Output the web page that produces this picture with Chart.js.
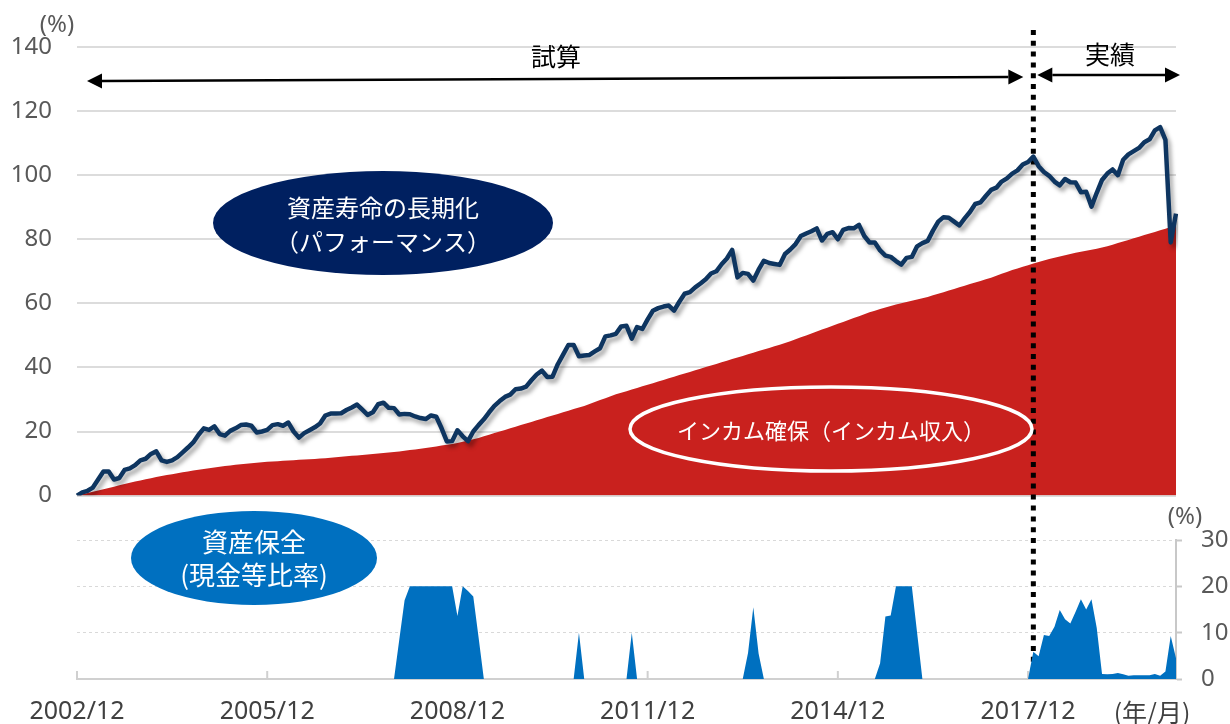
<!DOCTYPE html>
<html lang="ja">
<head>
<meta charset="utf-8">
<title>資産寿命の長期化</title>
<script src="https://cdn.jsdelivr.net/npm/chart.js@4.4.1/dist/chart.umd.min.js"></script>
<style>
  body { margin: 0; background: #fff; }
  #wrap { position: relative; width: 1230px; height: 724px; background: #fff; }
  #topBox { position: absolute; left: 0; top: 0; width: 1230px; height: 510px; z-index: 2; }
  #bottomBox { position: absolute; left: 0; top: 500px; width: 1230px; height: 224px; z-index: 1; }
</style>
</head>
<body>
<div id="wrap">
  <div id="topBox"><canvas id="perfChart" width="1230" height="510"></canvas></div>
  <div id="bottomBox"><canvas id="cashChart" width="1230" height="224"></canvas></div>
</div>
<script>
// monthly labels, 2002/12 .. 2020/4
const months = [];
for (let i = 0; i < 209; i++) {
    const m = (11 + i) % 12 + 1;
    const y = 2002 + Math.floor((11 + i) / 12);
    months.push(y + '/' + m);
}

// 資産寿命の長期化（パフォーマンス）, %
const performance = [
    0, 1, 1.5, 2.5, 5, 7.5, 7.5, 5, 5.5, 8, 8.5, 9.5, 11, 11.5, 13, 13.8, 11, 10.5, 11, 12,
    13.5, 15, 16.6, 19, 21, 20.5, 21.6, 19.2, 18.7, 20.2, 21, 22, 22.2, 21.8, 19.7, 20, 20.5, 22, 22.3, 21.8,
    22.8, 20, 18.1, 19.5, 20.4, 21.3, 22.5, 25, 25.6, 25.6, 25.7, 26.7, 27.5, 28.4, 26.8, 25.2, 26, 28.5, 29, 27.4,
    27.3, 25.3, 25.5, 25.4, 24.7, 24.2, 23.9, 25, 24.6, 21, 16.9, 17, 20.4, 18.5, 17, 20, 22, 23.8, 26, 28,
    29.5, 30.8, 31.5, 33.2, 33.4, 34, 36, 37.8, 39, 37, 37.1, 41, 44, 47, 47, 43.5, 43.7, 43.9, 45, 46,
    49.7, 50, 50.5, 52.8, 53, 49, 52.6, 52, 55, 57.7, 58.5, 59, 59.3, 57.7, 60.5, 63, 63.5, 65, 66.2, 67.5,
    69.3, 70, 72.2, 74, 76.7, 68.1, 69.5, 69.2, 67.1, 70.5, 73.3, 72.6, 72.3, 72, 75.4, 76.8, 78.5, 81, 81.8, 82.5,
    83.4, 79.6, 81.7, 82.2, 80, 82.9, 83.5, 83.4, 84.5, 81, 79, 79, 76.5, 74.9, 74.5, 73.2, 72.1, 74.2, 74.5, 77.8,
    78.8, 79.5, 82.7, 85.5, 86.9, 86.7, 85.5, 84.3, 86.5, 88.5, 91, 91.5, 93.5, 95.4, 96.1, 98, 99, 100.5, 101.5, 103.3,
    104.1, 105.8, 102.8, 101, 99.8, 98, 96.8, 98.8, 97.8, 97.7, 94.7, 94.8, 90.2, 94.5, 98.5, 100.5, 101.8, 100, 104.8, 106.5,
    107.5, 108.5, 110.3, 111.2, 114, 115, 111, 79, 88
];

// インカム確保（インカム収入）, %
const income = [
    0, 0.4, 0.8, 1.2, 1.6, 2.0, 2.4, 2.8, 3.2, 3.6, 4.0, 4.4, 4.75, 5.1, 5.45, 5.8, 6.1, 6.4, 6.7, 7.0,
    7.3, 7.55, 7.8, 8.05, 8.3, 8.55, 8.8, 9.0, 9.2, 9.4, 9.6, 9.8, 9.95, 10.1, 10.25, 10.4, 10.55, 10.65, 10.75, 10.85,
    10.95, 11.05, 11.15, 11.25, 11.35, 11.45, 11.55, 11.65, 11.8, 11.95, 12.1, 12.25, 12.4, 12.55, 12.7, 12.85, 13.0, 13.15, 13.3, 13.45,
    13.6, 13.8, 14.0, 14.2, 14.4, 14.6, 14.85, 15.1, 15.35, 15.6, 15.85, 16.1, 16.4, 16.8, 17.2, 17.6, 18.0, 18.5, 19.0, 19.5,
    20.0, 20.5, 21.0, 21.5, 22.0, 22.5, 23.0, 23.5, 24.0, 24.5, 25.0, 25.5, 26.0, 26.5, 27.0, 27.5, 28.0, 28.6, 29.2, 29.8,
    30.4, 31.0, 31.6, 32.1, 32.6, 33.1, 33.6, 34.1, 34.6, 35.1, 35.6, 36.1, 36.6, 37.1, 37.6, 38.1, 38.6, 39.1, 39.6, 40.1,
    40.6, 41.1, 41.6, 42.1, 42.6, 43.1, 43.6, 44.1, 44.6, 45.1, 45.6, 46.1, 46.6, 47.1, 47.6, 48.2, 48.8, 49.4, 50.0, 50.6,
    51.2, 51.8, 52.4, 53.0, 53.6, 54.2, 54.8, 55.4, 56.0, 56.6, 57.2, 57.7, 58.2, 58.7, 59.2, 59.6, 60.0, 60.4, 60.8, 61.2,
    61.6, 62.0, 62.5, 63.0, 63.5, 64.0, 64.5, 65.0, 65.5, 66.0, 66.5, 67.0, 67.5, 68.0, 68.6, 69.2, 69.8, 70.4, 70.9, 71.4,
    71.9, 72.4, 72.9, 73.4, 73.8, 74.2, 74.6, 75.0, 75.4, 75.8, 76.1, 76.4, 76.7, 77.0, 77.4, 77.8, 78.3, 78.8, 79.3, 79.8,
    80.3, 80.8, 81.3, 81.8, 82.3, 82.8, 83.3, 83.8, 84.3
];

// 資産保全（現金等比率）, %
const cashRatio = [
    0, 0, 0, 0, 0, 0, 0, 0, 0, 0, 0, 0, 0, 0, 0, 0, 0, 0, 0, 0,
    0, 0, 0, 0, 0, 0, 0, 0, 0, 0, 0, 0, 0, 0, 0, 0, 0, 0, 0, 0,
    0, 0, 0, 0, 0, 0, 0, 0, 0, 0, 0, 0, 0, 0, 0, 0, 0, 0, 0, 0,
    0, 8.5, 17, 20, 20, 20, 20, 20, 20, 20, 20, 20, 13.6, 20, 19, 17.8, 9, 0, 0, 0,
    0, 0, 0, 0, 0, 0, 0, 0, 0, 0, 0, 0, 0, 0, 0, 10, 0, 0, 0, 0,
    0, 0, 0, 0, 0, 10, 0, 0, 0, 0, 0, 0, 0, 0, 0, 0, 0, 0, 0, 0,
    0, 0, 0, 0, 0, 0, 0, 5.6, 15.5, 5.5, 0, 0, 0, 0, 0, 0, 0, 0, 0, 0,
    0, 0, 0, 0, 0, 0, 0, 0, 0, 0, 0, 0, 3.4, 13.5, 13.7, 20, 20, 20, 20, 10,
    0, 0, 0, 0, 0, 0, 0, 0, 0, 0, 0, 0, 0, 0, 0, 0, 0, 0, 0, 0,
    0, 5.9, 4.9, 9.5, 9.3, 11.3, 14.9, 12.9, 12, 14.5, 17.2, 15, 17.2, 11, 1.1, 1.0, 1.1, 1.3, 1.0, 0.7,
    0.8, 0.8, 0.8, 0.8, 1.1, 0.7, 1.6, 9.3, 4.5
];

const perfTicks = [0, 20, 40, 60, 80, 100, 120, 140];
const cashTicks = [0, 10, 20, 30];
const splitIndex = 181;   // 試算 | 実績
const tickEvery = 36;

const jpFont = '"Noto Sans CJK JP", sans-serif';
Chart.defaults.font.family = '"Noto Sans", "Noto Sans CJK JP", sans-serif';

function drawDotted(ctx, x, y1, y2, offset) {
    ctx.save();
    ctx.strokeStyle = '#000';
    ctx.lineWidth = 5;
    ctx.setLineDash([5, 5.8]);
    ctx.lineDashOffset = offset;
    ctx.beginPath();
    ctx.moveTo(x, y1);
    ctx.lineTo(x, y2);
    ctx.stroke();
    ctx.restore();
}

function arrow(ctx, x1, y1, x2, y2) {
    const a = Math.atan2(y2 - y1, x2 - x1);
    const h = 15, w = 7.5;
    const c = Math.cos(a), s = Math.sin(a);
    ctx.strokeStyle = '#000';
    ctx.fillStyle = '#000';
    ctx.lineWidth = 2.5;
    ctx.beginPath();
    ctx.moveTo(x1 + h * c, y1 + h * s);
    ctx.lineTo(x2 - h * c, y2 - h * s);
    ctx.stroke();
    [[x1, y1, -1], [x2, y2, 1]].forEach(([px, py, d]) => {
        const bx = px - d * h * c, by = py - d * h * s;
        ctx.beginPath();
        ctx.moveTo(px, py);
        ctx.lineTo(bx - w * s, by + w * c);
        ctx.lineTo(bx + w * s, by - w * c);
        ctx.closePath();
        ctx.fill();
    });
}

function ellipseText(ctx, lines, cx, ys, size) {
    ctx.fillStyle = '#fff';
    ctx.font = size + 'px ' + jpFont;
    ctx.textAlign = 'center';
    ctx.textBaseline = 'middle';
    lines.forEach((t, i) => ctx.fillText(t, cx, ys[i]));
}

const perfDecor = {
    id: 'perfDecor',
    beforeDatasetDraw(chart, args) {
        if (args.index !== 0) return;
        const ctx = chart.ctx;
        drawDotted(ctx, chart.scales.x.getPixelForValue(splitIndex), 30, 500, 0);
        ctx.save();
        ctx.shadowColor = 'rgba(0, 0, 0, 0.35)';
        ctx.shadowBlur = 4;
        ctx.shadowOffsetX = 3;
        ctx.shadowOffsetY = 4;
    },
    afterDatasetDraw(chart, args) {
        if (args.index === 0) chart.ctx.restore();
    },
    afterDraw(chart) {
        const ctx = chart.ctx;
        const xs = chart.scales.x.getPixelForValue(splitIndex);
        ctx.save();
        ctx.fillStyle = '#595959';
        ctx.font = '24px "Noto Sans", sans-serif';
        ctx.textAlign = 'center';
        ctx.textBaseline = 'middle';
        ctx.fillText('(%)', 57, 25);

        arrow(ctx, 87, 81, xs - 10, 77);
        arrow(ctx, xs + 4, 75, 1180, 75);
        ctx.fillStyle = '#000';
        ctx.font = '25px ' + jpFont;
        ctx.fillText('試算', 556, 56);
        ctx.fillText('実績', 1110, 54);

        ctx.fillStyle = '#002060';
        ctx.beginPath();
        ctx.ellipse(383, 223, 170, 52, 0, 0, Math.PI * 2);
        ctx.fill();
        ellipseText(ctx, ['資産寿命の長期化', '（パフォーマンス）'], 383, [208, 242], 24);

        ctx.strokeStyle = '#fff';
        ctx.lineWidth = 3.5;
        ctx.beginPath();
        ctx.ellipse(831, 429, 201, 42, 0, 0, Math.PI * 2);
        ctx.stroke();
        ellipseText(ctx, ['インカム確保（インカム収入）'], 831, [431], 22);
        ctx.restore();
    }
};

const cashDecor = {
    id: 'cashDecor',
    beforeDatasetsDraw(chart) {
        const {ctx, chartArea, scales} = chart;
        ctx.save();
        ctx.strokeStyle = '#d0d0d0';
        ctx.lineWidth = 2;
        scales.x.ticks.forEach(t => {
            const x = scales.x.getPixelForValue(t.value);
            ctx.beginPath();
            ctx.moveTo(x, chartArea.bottom);
            ctx.lineTo(x, chartArea.bottom - 8);
            ctx.stroke();
        });
        ctx.restore();
        drawDotted(ctx, scales.x.getPixelForValue(splitIndex), 0, chartArea.bottom, 5.2);
    },
    afterDraw(chart) {
        const ctx = chart.ctx;
        ctx.save();
        ctx.textAlign = 'center';
        ctx.textBaseline = 'middle';
        ctx.fillStyle = '#595959';
        ctx.font = '24px "Noto Sans", sans-serif';
        ctx.fillText('(%)', 1185, 17);
        ctx.fillStyle = '#404040';
        ctx.font = '25px ' + jpFont;
        ctx.fillText('(年/月)', 1152, 212);

        ctx.fillStyle = '#0070C0';
        ctx.beginPath();
        ctx.ellipse(254, 58, 123, 47, 0, 0, Math.PI * 2);
        ctx.fill();
        ellipseText(ctx, ['資産保全', '(現金等比率)'], 254, [42, 75], 26);
        ctx.restore();
    }
};

new Chart(document.getElementById('perfChart').getContext('2d'), {
    type: 'line',
    data: {
        labels: months,
        datasets: [
            {
                label: '資産寿命の長期化（パフォーマンス）',
                data: performance,
                borderColor: '#0E3560',
                borderWidth: 4.5,
                borderJoinStyle: 'round',
                pointRadius: 0,
                tension: 0,
                fill: false
            },
            {
                label: 'インカム確保（インカム収入）',
                data: income,
                borderWidth: 0,
                backgroundColor: '#C9211E',
                pointRadius: 0,
                tension: 0,
                fill: 'origin'
            }
        ]
    },
    options: {
        responsive: false,
        animation: false,
        layout: { padding: { top: 47, right: 54, bottom: 0, left: 0 } },
        plugins: { legend: { display: false }, tooltip: { enabled: false } },
        scales: {
            x: { display: false, offset: false },
            y: {
                min: 0,
                max: 140,
                afterBuildTicks: s => { s.ticks = perfTicks.map(v => ({ value: v })); },
                afterFit: s => { s.width = 77; },
                // invisible tick marks keep the labels 25px off the plot
                grid: { color: '#dcdcdc', lineWidth: 2, drawTicks: true, tickLength: 25, tickColor: 'rgba(0,0,0,0)' },
                border: { display: false },
                ticks: { color: '#595959', padding: 0, font: { size: 24 } }
            }
        }
    },
    plugins: [perfDecor]
});

new Chart(document.getElementById('cashChart').getContext('2d'), {
    type: 'line',
    data: {
        labels: months,
        datasets: [
            {
                label: '資産保全（現金等比率）',
                data: cashRatio,
                borderWidth: 0,
                backgroundColor: '#0070C0',
                pointRadius: 0,
                tension: 0,
                fill: 'origin'
            }
        ]
    },
    options: {
        responsive: false,
        animation: false,
        layout: { padding: { top: 40, right: 0, bottom: 0, left: 77 } },
        plugins: { legend: { display: false }, tooltip: { enabled: false } },
        scales: {
            x: {
                offset: false,
                afterBuildTicks: s => { s.ticks = s.ticks.filter(t => t.value % tickEvery === 0); },
                afterFit: s => { s.height = 45; },
                grid: { display: false, drawTicks: false },
                border: { display: true, color: '#d0d0d0', width: 2 },
                ticks: { autoSkip: false, maxRotation: 0, padding: 18, color: '#404040', font: { size: 25 } }
            },
            y: {
                position: 'right',
                min: 0,
                max: 30,
                afterBuildTicks: s => { s.ticks = cashTicks.map(v => ({ value: v })); },
                afterFit: s => { s.width = 54; },
                grid: { color: '#d9d9d9', lineWidth: 1, tickLength: 6, tickColor: '#c8c8c8', tickWidth: 2 },
                border: { display: true, color: '#c8c8c8', width: 2, dash: [3, 3] },
                ticks: { color: '#595959', padding: 19, font: { size: 24 } }
            }
        }
    },
    plugins: [cashDecor]
});
</script>
</body>
</html>
